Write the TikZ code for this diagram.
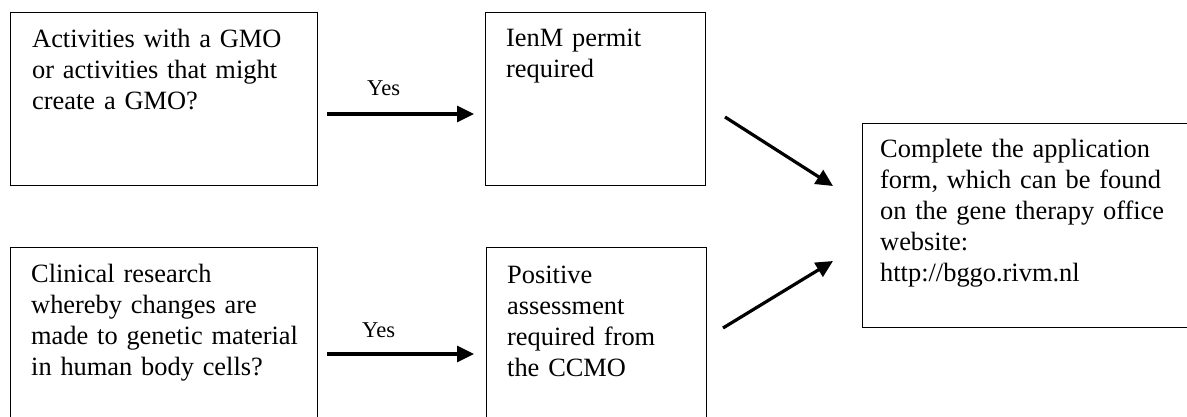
\documentclass[tikz,border=0pt]{standalone}
\usepackage{fontspec}
\setmainfont{Liberation Serif}
\usetikzlibrary{arrows.meta}
\tikzset{
  box/.style={draw=black, line width=1.4pt, rectangle, anchor=north west, inner sep=0pt},
  txt/.style={anchor=base west, inner sep=0pt, text width=320pt, align=left,
    font=\fontsize{26.4}{31}\selectfont},
  yes/.style={anchor=base west, inner sep=0pt, font=\fontsize{22.6}{26}\selectfont},
  arr/.style={line width=3.2pt, -{Triangle[length=17pt,width=16pt]}}
}
\begin{document}
\begin{tikzpicture}[x=1pt,y=-1pt]
\useasboundingbox (0,0) rectangle (1187,416);
\clip (0,0) rectangle (1187,416);
% boxes
\node[box, minimum width=307pt, minimum height=173pt] (b1) at (10,12) {};
\node[box, minimum width=220pt, minimum height=173pt] (b2) at (485,12) {};
\node[box, minimum width=340pt, minimum height=204pt] (b3) at (862,123) {};
\node[box, minimum width=307pt, minimum height=190pt] (b4) at (10,247) {};
\node[box, minimum width=220pt, minimum height=190pt] (b5) at (486,247) {};
% texts
\node[txt] (t1) at (32,47) {Activities with a GMO\\or activities that might\\create a GMO?};
\node[txt] (t2) at (506,46) {IenM permit\\required};
\node[txt] (t3) at (880,157) {Complete the application\\form, which can be found\\on the gene therapy office\\website:\\http://bggo.rivm.nl};
\node[txt] (t4) at (31,282) {Clinical research\\whereby changes are\\made to genetic material\\in human body cells?};
\node[txt] (t5) at (507,283) {Positive\\assessment\\required from\\the CCMO};
% connector end points
\coordinate (a1s) at (327,114);
\coordinate (a1e) at (474,114);
\coordinate (a2s) at (327,354);
\coordinate (a2e) at (474,354);
\coordinate (a3s) at (725,117);
\coordinate (a3e) at (833,186);
\coordinate (a4s) at (723,328);
\coordinate (a4e) at (833,261);
\draw[arr] (a1s) -- (a1e);
\draw[arr] (a2s) -- (a2e);
\draw[arr] (a3s) -- (a3e);
\draw[arr] (a4s) -- (a4e);
\node[yes] (y1) at (367,95) {Yes};
\node[yes] (y2) at (362,337) {Yes};
\end{tikzpicture}
\end{document}
